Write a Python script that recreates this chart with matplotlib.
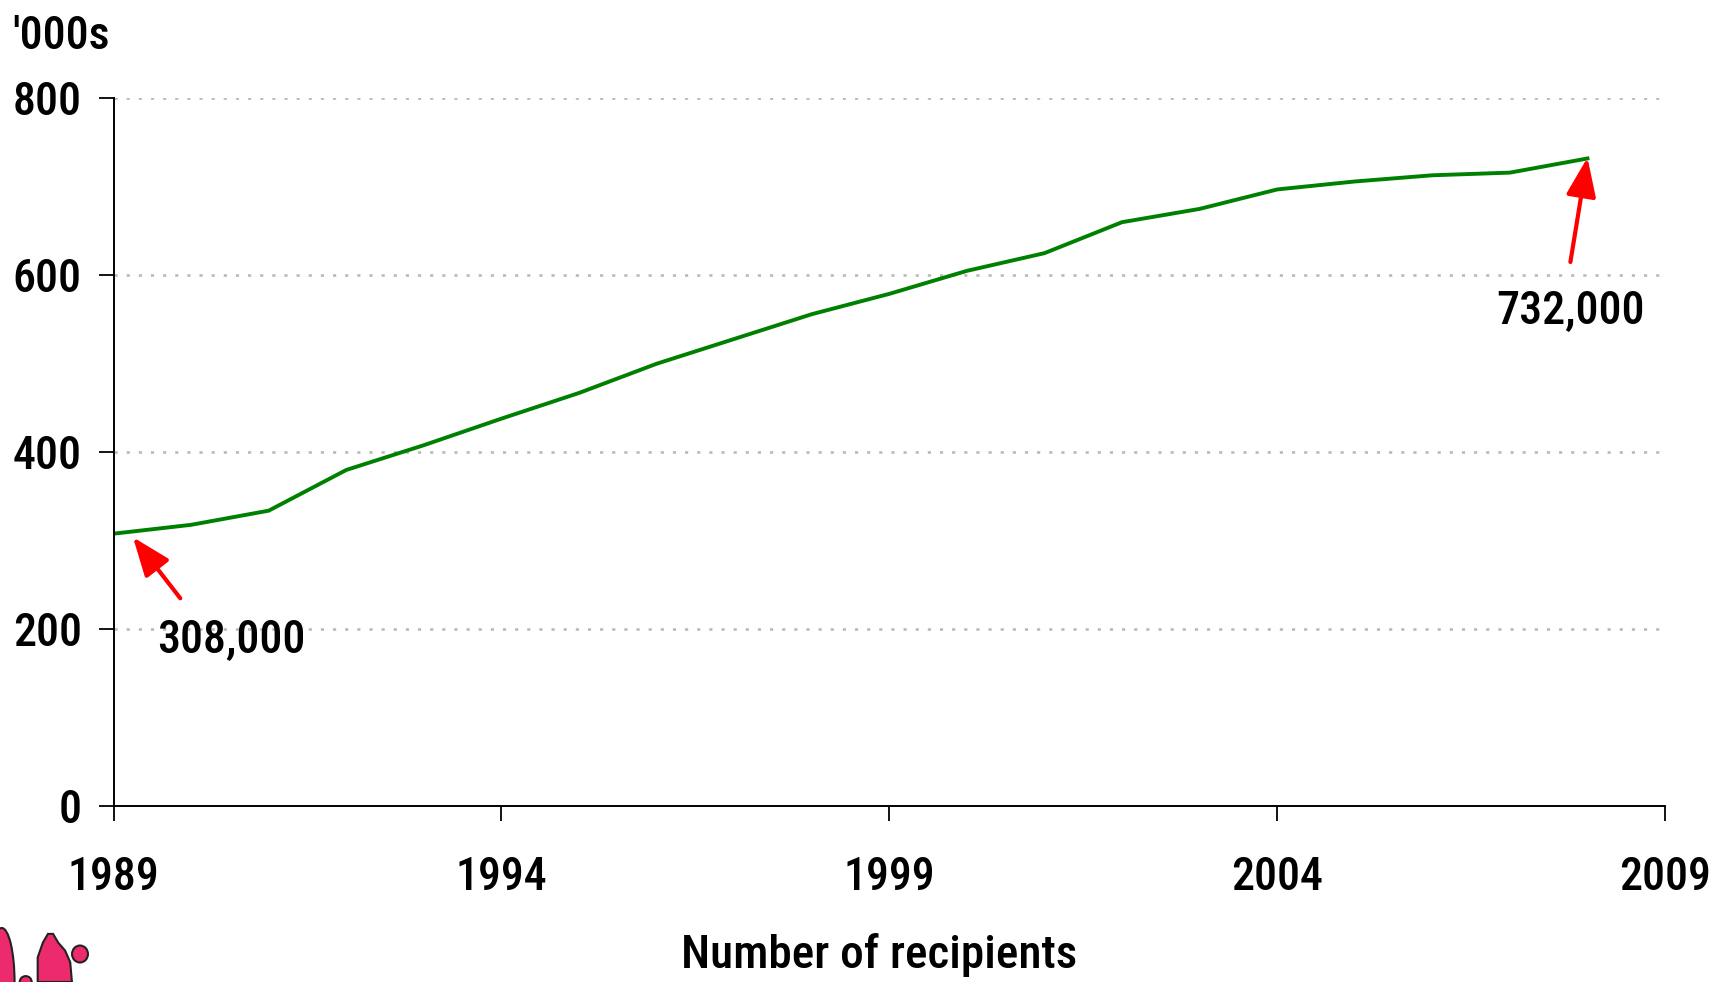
import matplotlib
matplotlib.use("Agg")
import matplotlib.pyplot as plt
from matplotlib.patches import Ellipse, Polygon

years = [1989, 1990, 1991, 1992, 1993, 1994, 1995, 1996, 1997, 1998,
         1999, 2000, 2001, 2002, 2003, 2004, 2005, 2006, 2007, 2008]
recipients = [308, 318, 334, 380, 408, 438, 467, 500, 528, 556,
              579, 605, 625, 660, 675, 697, 706, 713, 716, 732]
xticks = [1989, 1994, 1999, 2004, 2009]
yticks = [0, 200, 400, 600, 800]
start_label = "308,000"
end_label = "732,000"

plt.rcParams['font.family'] = ['Roboto Condensed', 'DejaVu Sans']
plt.rcParams['font.weight'] = 'medium'
FS = 33
W, H = 1713, 982
fig = plt.figure(figsize=(W / 100, H / 100), dpi=100)
ax = fig.add_axes([0.0663, 0.179, 0.972 - 0.0663, 0.8999 - 0.179])

ax.plot(years, recipients, color='#008000', lw=2.8, solid_joinstyle='miter')
ax.set_xlim(1989, 2009)
ax.set_ylim(0, 800)
ax.set_xticks(xticks)
ax.set_yticks(yticks)
ax.tick_params(axis='both', labelsize=FS, length=11, width=1.3, color='black')
ax.tick_params(axis='x', pad=25)
ax.tick_params(axis='y', pad=12)
for s in ['top', 'right']:
    ax.spines[s].set_visible(False)
for s in ['left', 'bottom']:
    ax.spines[s].set_linewidth(1.4)
for y in yticks[1:]:
    ax.axhline(y, color='#bababa', lw=1.9, ls=(0, (1.2, 3.4)), zorder=0)

arrow = dict(arrowstyle='-|>,head_length=0.7,head_width=0.27',
             color='#ff0000', lw=3, shrinkA=0, shrinkB=0, mutation_scale=34)
# start annotation
ax.annotate('', xy=(years[0] + 0.25, recipients[0] - 4),
            xytext=(years[0] + 0.86, recipients[0] - 73), arrowprops=arrow)
ax.text(years[0] + 1.52, recipients[0] - 120, start_label, fontsize=FS,
        ha='center', va='center')
# end annotation
ax.annotate('', xy=(years[-1], recipients[-1] + 1),
            xytext=(years[-1] - 0.22, recipients[-1] - 117), arrowprops=arrow)
ax.text(years[-1] - 0.22, recipients[-1] - 172, end_label, fontsize=FS,
        ha='center', va='center')

fig.text(0.007, 0.963, "'000s", fontsize=FS, ha='left', va='center')
fig.text(0.513, 0.027, "Number of recipients", fontsize=34, ha='center', va='center')

# decorative logo fragment at bottom-left
pink = '#ee2a6e'
logo = [
    Ellipse((0.001, 0.0), 0.015, 0.11, transform=fig.transFigure),
    Polygon([(0.022, 0.0), (0.022, 0.025), (0.025, 0.04), (0.028, 0.049),
             (0.031, 0.049), (0.034, 0.04), (0.038, 0.032), (0.041, 0.02),
             (0.042, 0.0)], closed=True, transform=fig.transFigure),
    Ellipse((0.0467, 0.0285), 0.0093, 0.0173, transform=fig.transFigure),
    Ellipse((0.015, 0.0), 0.007, 0.012, transform=fig.transFigure),
]
for p in logo:
    p.set_facecolor(pink)
    p.set_edgecolor('#222222')
    p.set_linewidth(1.5)
    fig.add_artist(p)

fig.savefig('out.png', dpi=100)
